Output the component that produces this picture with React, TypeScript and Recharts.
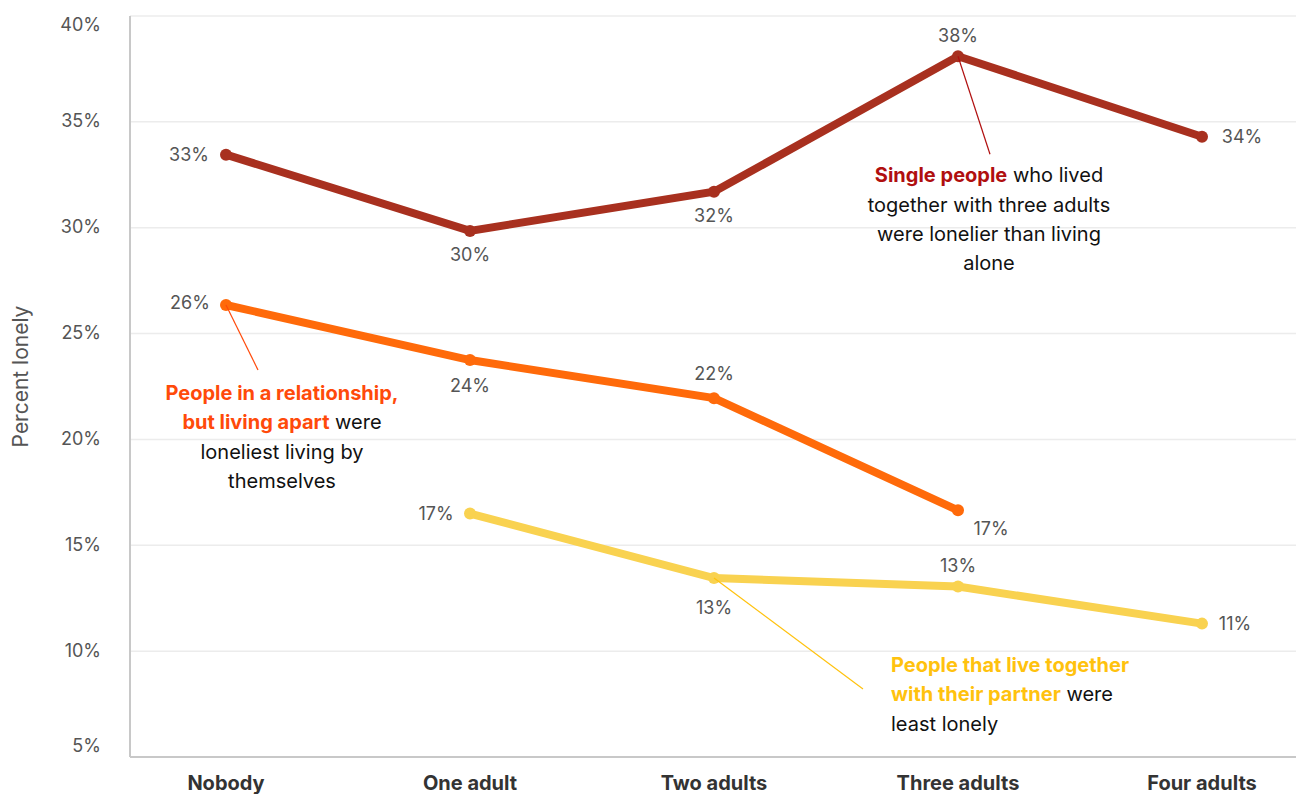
import React from 'react';
import { LineChart, Line, XAxis, YAxis, CartesianGrid, LabelList } from 'recharts';

const categories = ['Nobody', 'One adult', 'Two adults', 'Three adults', 'Four adults'];
const singleValues = [33.45, 29.85, 31.7, 38.1, 34.3];
const apartValues: (number | null)[] = [26.35, 23.75, 21.95, 16.65, null];
const togetherValues: (number | null)[] = [null, 16.5, 13.45, 13.05, 11.3];
const yTicks = [5, 10, 15, 20, 25, 30, 35, 40];

const data = categories.map((c, i) => ({
  category: c,
  single: singleValues[i],
  apart: apartValues[i],
  together: togetherValues[i],
}));

const FONT = "Inter, 'Noto Sans', sans-serif";
const RED = '#A8301F';
const ORANGE = '#FF6A0A';
const YELLOW = '#F9D250';
const RED_TXT = '#B00F0F';
const ORANGE_TXT = '#FF4A0A';
const YELLOW_TXT = '#FFC20E';
const LABEL = '#555555';
const DARK = '#111111';

type Off = [number, number];
const singleOffsets: Off[] = [[-37, 0], [0, 24], [0, 24], [0, -21], [40, 0]];
const apartOffsets: Off[] = [[-36, -2], [0, 25], [0, -25], [33, 18], [0, 0]];
const togetherOffsets: Off[] = [[0, 0], [-34, 0], [0, 29], [0, -21], [33, 0]];

type Seg = { t: string; bold?: boolean; color?: string };
type Ann = {
  index: number;
  lineTo: Off;
  textAt: Off;
  anchor: 'start' | 'middle';
  lineColor: string;
  lines: Seg[][];
};

const singleAnn: Ann = {
  index: 3,
  lineTo: [32, 98],
  textAt: [31, 119],
  anchor: 'middle',
  lineColor: RED_TXT,
  lines: [
    [{ t: 'Single people', bold: true, color: RED_TXT }, { t: ' who lived' }],
    [{ t: 'together with three adults' }],
    [{ t: 'were lonelier than living' }],
    [{ t: 'alone' }],
  ],
};

const apartAnn: Ann = {
  index: 0,
  lineTo: [32, 65],
  textAt: [56, 88],
  anchor: 'middle',
  lineColor: ORANGE_TXT,
  lines: [
    [{ t: 'People in a relationship,', bold: true, color: ORANGE_TXT }],
    [{ t: 'but living apart', bold: true, color: ORANGE_TXT }, { t: ' were' }],
    [{ t: 'loneliest living by' }],
    [{ t: 'themselves' }],
  ],
};

const togetherAnn: Ann = {
  index: 2,
  lineTo: [149, 111],
  textAt: [177, 87],
  anchor: 'start',
  lineColor: YELLOW_TXT,
  lines: [
    [{ t: 'People that live together', bold: true, color: YELLOW_TXT }],
    [{ t: 'with their partner', bold: true, color: YELLOW_TXT }, { t: ' were' }],
    [{ t: 'least lonely' }],
  ],
};

const makeLabel = (offsets: Off[], ann: Ann) => (props: any) => {
  const { value, index } = props;
  if (value === null || value === undefined) return null;
  const x = props.x ?? props.viewBox?.x;
  const y = props.y ?? props.viewBox?.y;
  if (x == null || y == null) return null;
  const [dx, dy] = offsets[index] || [0, 0];
  const showAnn = index === ann.index;
  return (
    <g>
      {showAnn && (
        <line
          x1={x}
          y1={y}
          x2={x + ann.lineTo[0]}
          y2={y + ann.lineTo[1]}
          stroke={ann.lineColor}
          strokeWidth={1.2}
        />
      )}
      <text
        x={x + dx}
        y={y + dy}
        textAnchor="middle"
        dominantBaseline="central"
        fill={LABEL}
        fontSize={18}
        fontFamily={FONT}
      >
        {Math.round(Number(value))}%
      </text>
      {showAnn &&
        ann.lines.map((segs, li) => (
          <text
            key={li}
            x={x + ann.textAt[0]}
            y={y + ann.textAt[1] + li * 29.3}
            textAnchor={ann.anchor}
            dominantBaseline="central"
            fontSize={20}
            fontFamily={FONT}
            fill={DARK}
          >
            {segs.map((s, si) => (
              <tspan key={si} fontWeight={s.bold ? 700 : 400} fill={s.color || DARK}>
                {s.t}
              </tspan>
            ))}
          </text>
        ))}
    </g>
  );
};

const YTick = (props: any) => {
  const { x, y, payload } = props;
  const v = payload.value;
  const shift = v === 40 ? 8 : v === 5 ? -12 : -1;
  return (
    <text
      x={x}
      y={y + shift}
      textAnchor="end"
      dominantBaseline="central"
      fill={LABEL}
      fontSize={18}
      fontFamily={FONT}
    >
      {v}%
    </text>
  );
};

const XTick = (props: any) => {
  const { x, y, payload } = props;
  return (
    <text
      x={x}
      y={y + 24}
      textAnchor="middle"
      dominantBaseline="central"
      fill="#333333"
      fontSize={20}
      fontWeight={700}
      fontFamily={FONT}
    >
      {payload.value}
    </text>
  );
};

const YLabel = (props: any) => {
  const vb = props.viewBox || { x: 0, y: 16, width: 130, height: 741 };
  const cx = vb.x + 20;
  const cy = vb.y + vb.height / 2 - 10;
  return (
    <text
      x={cx}
      y={cy}
      transform={`rotate(-90 ${cx} ${cy})`}
      textAnchor="middle"
      dominantBaseline="central"
      fill={LABEL}
      fontSize={21}
      fontFamily={FONT}
    >
      Percent lonely
    </text>
  );
};

export default function App() {
  return (
    <div style={{ position: 'absolute', left: 0, top: 0, width: 1296, height: 794, background: '#fff' }}>
      <LineChart
        width={1296}
        height={794}
        data={data}
        margin={{ top: 16, right: 0, bottom: 0, left: 0 }}
      >
        <CartesianGrid vertical={false} stroke="#ececec" strokeWidth={1.5} />
        <XAxis
          dataKey="category"
          height={37}
          padding={{ left: 96, right: 94 }}
          axisLine={{ stroke: '#c8c8c8', strokeWidth: 2 }}
          tickLine={false}
          tickSize={0}
          tick={<XTick />}
          interval={0}
        />
        <YAxis
          width={130}
          domain={[5, 40]}
          ticks={yTicks}
          type="number"
          allowDataOverflow
          axisLine={{ stroke: '#c8c8c8', strokeWidth: 2 }}
          tickLine={false}
          tickSize={0}
          tickMargin={29}
          tick={<YTick />}
          label={<YLabel />}
        />
        <Line
          dataKey="together"
          stroke={YELLOW}
          strokeWidth={8}
          dot={{ r: 6, fill: YELLOW, stroke: YELLOW, strokeWidth: 0 }}
          activeDot={false}
          isAnimationActive={false}
          connectNulls={false}
        >
          <LabelList dataKey="together" content={makeLabel(togetherOffsets, togetherAnn)} />
        </Line>
        <Line
          dataKey="apart"
          stroke={ORANGE}
          strokeWidth={8}
          dot={{ r: 6, fill: ORANGE, stroke: ORANGE, strokeWidth: 0 }}
          activeDot={false}
          isAnimationActive={false}
          connectNulls={false}
        >
          <LabelList dataKey="apart" content={makeLabel(apartOffsets, apartAnn)} />
        </Line>
        <Line
          dataKey="single"
          stroke={RED}
          strokeWidth={8}
          dot={{ r: 6, fill: RED, stroke: RED, strokeWidth: 0 }}
          activeDot={false}
          isAnimationActive={false}
        >
          <LabelList dataKey="single" content={makeLabel(singleOffsets, singleAnn)} />
        </Line>
      </LineChart>
    </div>
  );
}
